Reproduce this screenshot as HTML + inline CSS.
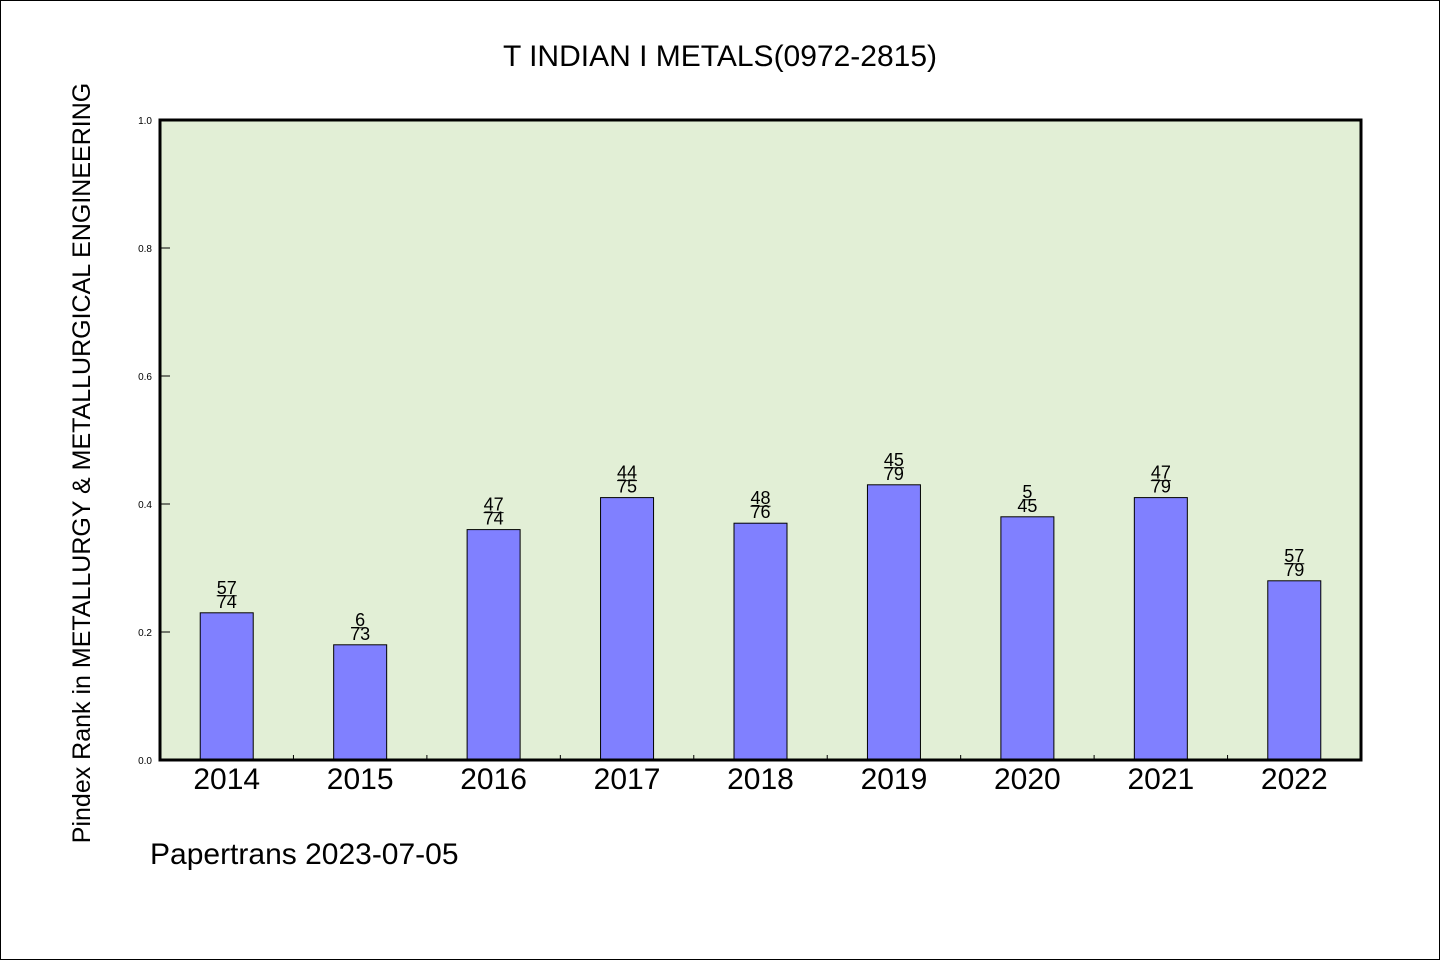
<!DOCTYPE html>
<html><head><meta charset="utf-8"><style>
body{margin:0;background:#fff}
svg{display:block}
text{font-family:"WenQuanYi Zen Hei","Liberation Sans",sans-serif;fill:#000}
</style></head><body>
<svg id="chart" width="1440" height="960" viewBox="0 0 1440 960">
<rect x="0.5" y="0.5" width="1439" height="959" fill="#fff" stroke="#000"/>
<text x="720" y="66" font-size="30" text-anchor="middle">T INDIAN I METALS(0972-2815)</text>
<rect x="160" y="120" width="1201" height="640" fill="#e2efd6"/>
<g id="bars"></g>
<rect x="160" y="120" width="1201" height="640" fill="none" stroke="#000" stroke-width="3"/>
<text transform="translate(90,463) rotate(-90)" font-size="25" text-anchor="middle">Pindex Rank in METALLURGY &amp; METALLURGICAL ENGINEERING</text>
<text x="150" y="864" font-size="30">Papertrans 2023-07-05</text>
</svg>
<script>
const categories=["2014","2015","2016","2017","2018","2019","2020","2021","2022"];
const values=[0.23,0.18,0.36,0.41,0.37,0.43,0.38,0.41,0.28];
const numerators=["57","6","47","44","48","45","5","47","57"];
const denominators=["74","73","74","75","76","79","45","79","79"];
const yTicks=[0,0.2,0.4,0.6,0.8,1.0];
const yTickLabels=["0.0","0.2","0.4","0.6","0.8","1.0"];
const X0=160,W=1201,Y0=760,H=640;
const band=W/categories.length;
const xC=i=>X0+band*(i+0.5);
const y=v=>Y0-v*H;
const NS="http://www.w3.org/2000/svg";
const g=document.getElementById('bars');
const svg=document.getElementById('chart');
function mk(t,a,p){const e=document.createElementNS(NS,t);for(const k in a)e.setAttribute(k,a[k]);(p||g).appendChild(e);return e;}
yTicks.forEach((v,i)=>{
  const l=mk('line',{x1:X0,x2:X0+10,y1:y(v),y2:y(v),stroke:'#000'});
  
  
  const t=mk('text',{x:X0-8,y:y(v)+4,'font-size':10,'text-anchor':'end'},svg);
  t.textContent=yTickLabels[i];
  
  
});
categories.forEach((c,i)=>{
  const cx=xC(i);
  const r=mk('rect',{x:cx-26.5,y:y(values[i]),width:53,height:Y0-y(values[i]),fill:'#8080ff',stroke:'#000','stroke-width':1});
  
  
  if(i>0){const tk=mk('line',{x1:X0+band*i,x2:X0+band*i,y1:Y0,y2:Y0-5,stroke:'#000'});
    
    }
  const xl=mk('text',{x:cx,y:789,'font-size':30,'text-anchor':'middle'},svg);
  xl.textContent=c;
  
  
  const top=y(values[i]);
  const n=mk('text',{x:cx,y:top-19,'font-size':18,'text-anchor':'middle'});
  n.textContent=numerators[i];
  
  
  const d=mk('text',{x:cx,y:top-5,'font-size':18,'text-anchor':'middle'});
  d.textContent=denominators[i];
  
  
  const wl=numerators[i].length*5;
  const fl=mk('line',{x1:cx-wl,x2:cx+wl,y1:top-17,y2:top-17,stroke:'#000','stroke-width':1});
  
  
});
</script>
</body></html>
